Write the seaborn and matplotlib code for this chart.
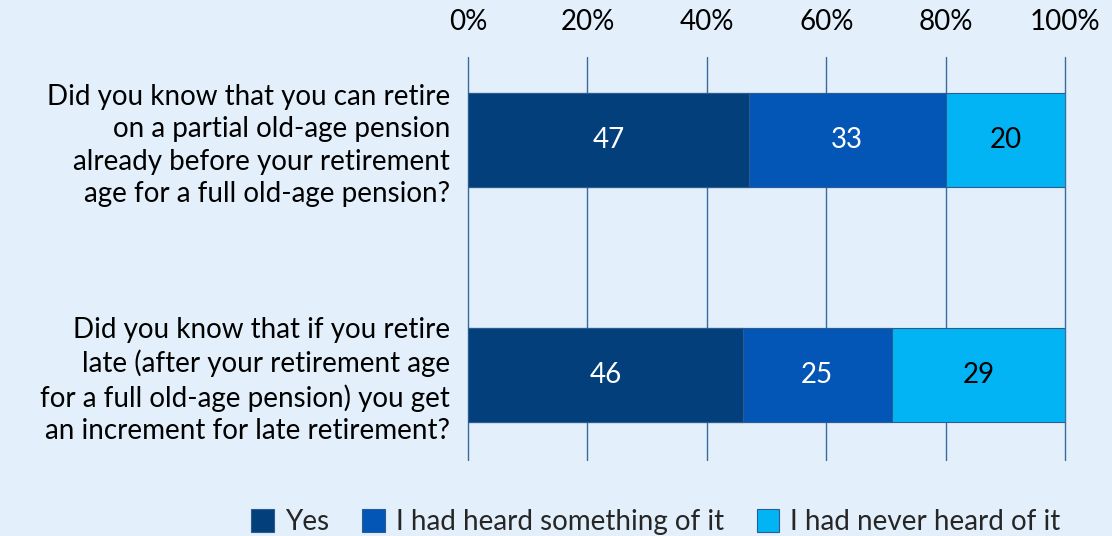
import matplotlib
matplotlib.use("Agg")
import matplotlib.pyplot as plt
import seaborn as sns
import pandas as pd
import numpy as np

questions = [
    "Did you know that you can retire\non a partial old-age pension\nalready before your retirement\nage for a full old-age pension?",
    "Did you know that if you retire\nlate (after your retirement age\nfor a full old-age pension) you get\nan increment for late retirement?",
]
responses = ["Yes", "I had heard something of it", "I had never heard of it"]
yes_vals = [47, 46]
heard_vals = [33, 25]
never_vals = [20, 29]
tick_labels = ["0%", "20%", "40%", "60%", "80%", "100%"]

colors = ["#033F7A", "#0356B6", "#02B4F4"]
label_colors = ["white", "white", "black"]
bg = "#E3F0FB"
grid_col = "#3A6AA0"
fs = 20

sns.set_theme(style="white")
plt.rcParams["font.family"] = ["Lato", "DejaVu Sans"]

series = [yes_vals, heard_vals, never_vals]
cum = np.cumsum(np.array(series), axis=0)

fig = plt.figure(figsize=(11.12, 5.36), dpi=100, facecolor=bg)
ax = fig.add_axes([0.4209, 0.1418, 0.5369, 0.7519])
ax.set_facecolor(bg)

# gridlines behind the bars
for t in range(0, 101, 20):
    ax.axvline(t, color=grid_col, lw=1.0, zorder=0, clip_on=False)

# stacked bars: draw cumulative totals from the outermost segment inwards
for i in reversed(range(len(responses))):
    df = pd.DataFrame({"question": questions, "total": cum[i]})
    sns.barplot(data=df, x="total", y="question", orient="h", color=colors[i],
                saturation=1, width=0.4, ax=ax, edgecolor="#2C5C92",
                linewidth=0.8, label=responses[i], zorder=2)

# segment value labels
for i in range(len(responses)):
    for j in range(len(questions)):
        v = series[i][j]
        ax.text(cum[i][j] - v / 2, j, f"{v}", ha="center", va="center",
                color=label_colors[i], fontsize=fs, zorder=3)

ax.set_xlim(0, 100)
ax.set_ylim(1.362, -0.353)
ax.set_xticks(range(0, 101, 20))
ax.set_xticklabels(tick_labels)
ax.xaxis.tick_top()
ax.tick_params(axis="x", length=0, pad=16, labelsize=fs, colors="black")
ax.tick_params(axis="y", length=0, pad=13, labelsize=fs, colors="black")
for lbl in ax.get_yticklabels():
    lbl.set_horizontalalignment("right")
    lbl.set_multialignment("right")
    lbl.set_linespacing(1.3)
ax.set_xlabel("")
ax.set_ylabel("")
for s in ax.spines.values():
    s.set_visible(False)

# legend in response order, below the plot
handles, labels = ax.get_legend_handles_labels()
if ax.get_legend() is not None:
    ax.get_legend().remove()
order = [labels.index(r) for r in responses]
fig.legend([handles[k] for k in order], [labels[k] for k in order],
           loc="lower center", bbox_to_anchor=(0.59, -0.045), ncol=3,
           frameon=False, fontsize=fs, handlelength=0.8, handleheight=0.9,
           handletextpad=0.4, columnspacing=1.2)

fig.savefig("out.png", dpi=100, facecolor=bg)
